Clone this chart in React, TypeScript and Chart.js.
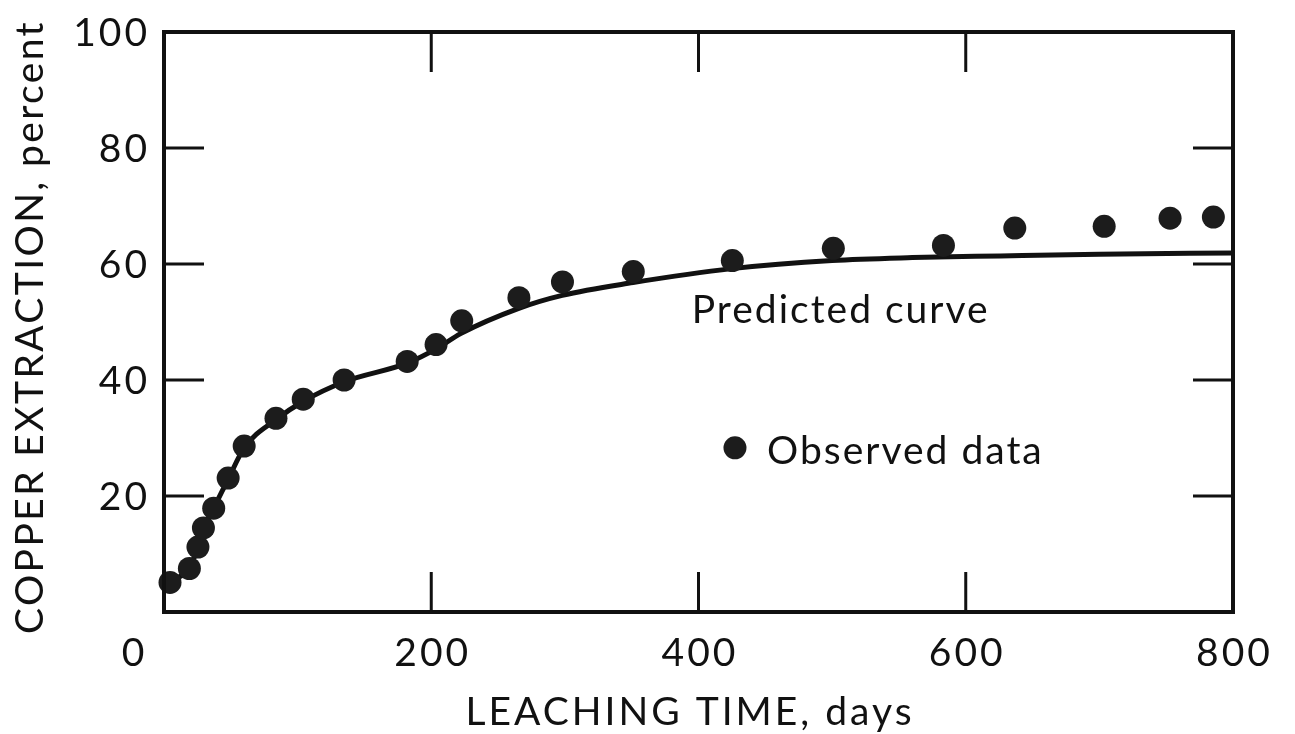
import React, { useEffect, useRef } from 'react';
import { Chart, registerables } from 'chart.js';

Chart.register(...registerables);

// Observed data (days, percent)
const OBS_DAYS = [4.5, 19, 25.4, 29.5, 37.2, 48, 60, 83.8, 104.2, 134.8, 182, 203.6, 222.8, 265.6, 298.2, 351.2, 425.3, 500.9, 583.3, 636.7, 703.6, 752.9, 785.3];
const OBS_PCT = [5.1, 7.5, 11.2, 14.5, 17.9, 23.1, 28.6, 33.4, 36.7, 40.0, 43.2, 46.1, 50.2, 54.2, 56.9, 58.7, 60.6, 62.7, 63.2, 66.2, 66.5, 67.9, 68.1];

// Predicted curve (days, percent)
const CURVE_DAYS = [0, 5, 19, 25, 30, 37, 48, 60, 84, 104, 135, 182, 204, 222, 266, 298, 351, 425, 500, 560, 626, 700, 800];
const CURVE_PCT = [3.8, 5.1, 7.6, 10.9, 14.3, 17.8, 22.9, 28.3, 33.2, 36.3, 39.7, 42.9, 45.4, 48.0, 52.4, 54.6, 56.8, 59.2, 60.6, 61.1, 61.4, 61.7, 61.9];

const X_TICKS = [0, 200, 400, 600, 800];
const Y_TICKS = [20, 40, 60, 80, 100];
const X_INNER_TICKS = [200, 400, 600];
const Y_INNER_TICKS = [20, 40, 60, 80];

const X_TITLE = 'LEACHING TIME, days';
const Y_TITLE = 'COPPER EXTRACTION, percent';
const PRED_LABEL = 'Predicted curve';
const OBS_LABEL = 'Observed data';

const FONT = "39px Lato, 'DejaVu Sans', sans-serif";
const INK = '#111111';

const framePlugin = {
  id: 'frameAndText',
  afterDraw(chart: any) {
    const ctx = chart.ctx as any;
    const xs = chart.scales.x;
    const ys = chart.scales.y;
    const { left, right, top, bottom } = chart.chartArea;
    ctx.save();
    ctx.strokeStyle = INK;
    ctx.fillStyle = INK;
    // frame
    ctx.lineWidth = 4;
    ctx.lineJoin = 'miter';
    ctx.strokeRect(left, top, right - left, bottom - top);
    // inward ticks
    ctx.lineWidth = 3;
    const TL = 40;
    ctx.beginPath();
    X_INNER_TICKS.forEach((v) => {
      const px = xs.getPixelForValue(v);
      ctx.moveTo(px, top);
      ctx.lineTo(px, top + TL);
      ctx.moveTo(px, bottom);
      ctx.lineTo(px, bottom - TL);
    });
    Y_INNER_TICKS.forEach((v) => {
      const py = ys.getPixelForValue(v);
      ctx.moveTo(left, py);
      ctx.lineTo(left + TL, py);
      ctx.moveTo(right, py);
      ctx.lineTo(right - TL, py);
    });
    ctx.stroke();

    ctx.font = FONT;
    const cap = 14;
    // y tick labels
    ctx.letterSpacing = '3px';
    ctx.textAlign = 'right';
    ctx.textBaseline = 'alphabetic';
    Y_TICKS.forEach((v) => {
      const py = ys.getPixelForValue(v);
      ctx.fillText(String(v), left - 14, py + cap);
    });
    // x tick labels
    ctx.textAlign = 'center';
    X_TICKS.forEach((v) => {
      let px = xs.getPixelForValue(v) + 1.5;
      if (v === 0) px -= 31;
      ctx.fillText(String(v), px, bottom + 54);
    });
    // x title
    ctx.letterSpacing = '3px';
    ctx.fillText(X_TITLE, 690, bottom + 113);
    // y title
    ctx.save();
    ctx.letterSpacing = '2.4px';
    ctx.translate(43, 327);
    ctx.rotate(-Math.PI / 2);
    ctx.textAlign = 'center';
    ctx.fillText(Y_TITLE, 0, 0);
    ctx.restore();

    // annotations (in data coordinates)
    ctx.letterSpacing = '2px';
    ctx.textAlign = 'left';
    ctx.fillText(PRED_LABEL, xs.getPixelForValue(395), ys.getPixelForValue(49.8));
    ctx.fillStyle = '#1c1c1c';
    ctx.beginPath();
    ctx.arc(xs.getPixelForValue(427.3), ys.getPixelForValue(28.3), 11.5, 0, Math.PI * 2);
    ctx.fill();
    ctx.fillStyle = INK;
    ctx.fillText(OBS_LABEL, xs.getPixelForValue(451.3), ys.getPixelForValue(25.5));
    ctx.restore();
  },
};

export default function App() {
  const ref = useRef<HTMLCanvasElement | null>(null);
  useEffect(() => {
    if (!ref.current) return;
    const chart = new Chart(ref.current, {
      type: 'scatter',
      data: {
        datasets: [
          {
            label: 'Observed data',
            data: OBS_DAYS.map((d, i) => ({ x: d, y: OBS_PCT[i] })),
            showLine: false,
            pointRadius: 11.5,
            pointBackgroundColor: '#1c1c1c',
            pointBorderColor: '#1c1c1c',
            pointBorderWidth: 0,
            clip: false as any,
            order: 1,
          },
          {
            label: 'Predicted curve',
            data: CURVE_DAYS.map((d, i) => ({ x: d, y: CURVE_PCT[i] })),
            showLine: true,
            borderColor: INK,
            borderWidth: 5,
            pointRadius: 0,
            cubicInterpolationMode: 'monotone',
            fill: false,
            order: 2,
          },
        ],
      },
      options: {
        animation: false,
        responsive: false,
        maintainAspectRatio: false,
        layout: { padding: { left: 164, right: 62, top: 32, bottom: 122 } },
        plugins: { legend: { display: false }, tooltip: { enabled: false } },
        scales: {
          x: { type: 'linear', min: 0, max: 800, display: false },
          y: { type: 'linear', min: 0, max: 100, display: false },
        },
      },
      plugins: [framePlugin],
    });
    return () => chart.destroy();
  }, []);
  return (
    <div style={{ position: 'fixed', left: 0, top: 0, width: 1295, height: 734, background: '#fff' }}>
      <canvas ref={ref} width={1295} height={734} />
    </div>
  );
}
